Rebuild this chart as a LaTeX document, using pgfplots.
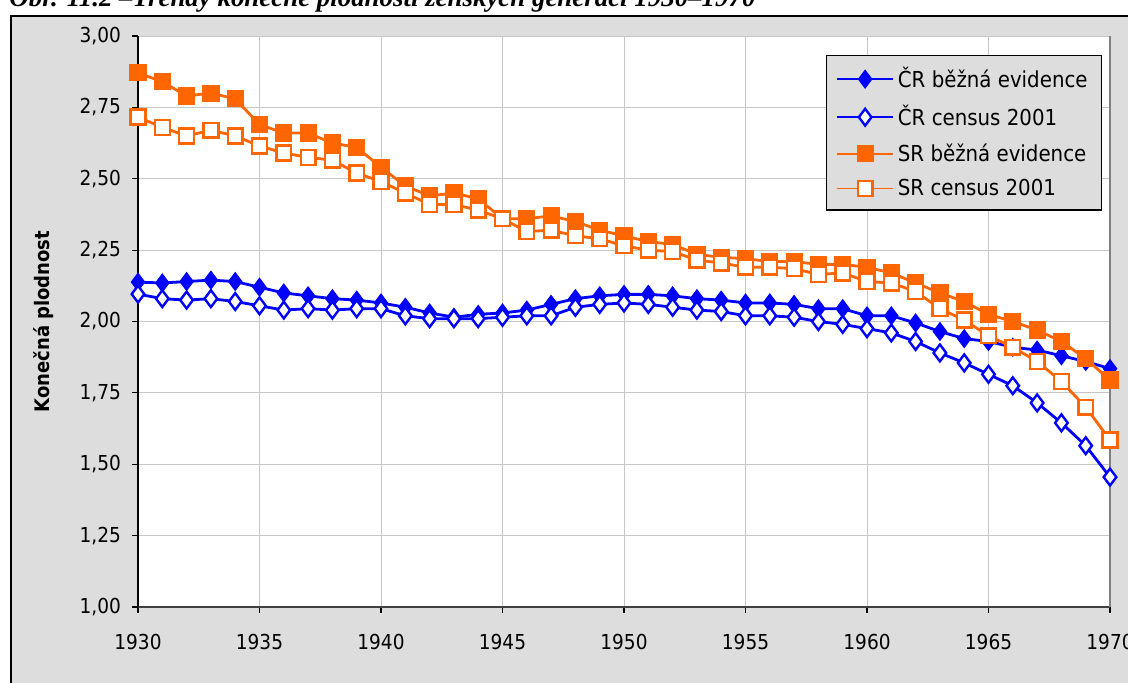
\documentclass[border=0pt]{standalone}
\usepackage{fontspec}
\setmainfont{DejaVu Sans Condensed}
\newfontfamily\titlefont{Liberation Serif}
\usepackage{pgfplots}
\pgfplotsset{compat=1.18}
\definecolor{cz}{RGB}{0,0,255}
\definecolor{sk}{RGB}{255,102,0}
\definecolor{bg}{RGB}{221,221,221}

\pgfplotstableread{
year crb crc srb src
1930 2.138 2.096 2.871 2.716
1931 2.135 2.080 2.840 2.680
1932 2.140 2.075 2.790 2.650
1933 2.145 2.080 2.800 2.670
1934 2.140 2.070 2.780 2.650
1935 2.120 2.055 2.690 2.615
1936 2.100 2.040 2.660 2.590
1937 2.090 2.045 2.660 2.575
1938 2.080 2.040 2.625 2.565
1939 2.075 2.045 2.610 2.520
1940 2.065 2.045 2.540 2.490
1941 2.050 2.020 2.475 2.450
1942 2.030 2.010 2.440 2.410
1943 2.015 2.010 2.450 2.410
1944 2.025 2.010 2.430 2.390
1945 2.030 2.015 2.360 2.360
1946 2.040 2.020 2.360 2.315
1947 2.060 2.020 2.370 2.320
1948 2.080 2.050 2.350 2.300
1949 2.090 2.060 2.320 2.290
1950 2.095 2.065 2.300 2.265
1951 2.095 2.060 2.280 2.250
1952 2.090 2.050 2.270 2.245
1953 2.080 2.040 2.235 2.215
1954 2.075 2.035 2.225 2.205
1955 2.065 2.020 2.220 2.190
1956 2.065 2.020 2.210 2.190
1957 2.060 2.015 2.210 2.185
1958 2.045 2.000 2.200 2.165
1959 2.045 1.990 2.200 2.170
1960 2.020 1.975 2.190 2.140
1961 2.020 1.960 2.170 2.135
1962 1.995 1.930 2.135 2.105
1963 1.965 1.890 2.100 2.045
1964 1.940 1.855 2.070 2.005
1965 1.930 1.815 2.025 1.950
1966 1.910 1.775 2.000 1.910
1967 1.900 1.715 1.970 1.860
1968 1.880 1.645 1.930 1.790
1969 1.860 1.565 1.870 1.700
1970 1.835 1.455 1.795 1.585
}\datatable

\begin{document}
\begin{tikzpicture}[x=1pt,y=1pt]
\path[use as bounding box] (0,0) rectangle (564,341);
\begin{scope}
\clip (0,0) rectangle (564,341);
\draw[black, line width=0.7pt, fill=bg] (5.5,-20) rectangle (600,333);
\node[anchor=base west, inner sep=0] at (4.5,337.5) {\resizebox{373pt}{!}{\titlefont\bfseries\itshape Obr. 11.2 –Trendy konečné plodnosti ženských generací 1930–1970}};
\end{scope}
\begin{axis}[
  at={(69pt,37.5pt)}, anchor=south west,
  scale only axis, width=486pt, height=285.5pt,
  xmin=1930, xmax=1970, ymin=1, ymax=3,
  xtick={1930,1935,...,1970},
  ytick={1,1.25,1.5,1.75,2,2.25,2.5,2.75,3},
  axis background/.style={fill=white},
  grid=major,
  major grid style={draw=black!22, line width=0.5pt},
  axis x line*=bottom, axis y line*=left,
  x axis line style={draw=black!75, line width=1.2pt},
  y axis line style={draw=black, line width=0.6pt},
  tick align=outside, major tick length=3pt,
  tick style={black, line width=0.6pt},
  tick label style={font=\fontsize{10.3}{12}\selectfont},
  /pgf/number format/assume math mode=true,
  xticklabel style={/pgf/number format/set thousands separator={}, yshift=-7pt},
  yticklabel style={/pgf/number format/fixed, /pgf/number format/fixed zerofill,
    /pgf/number format/precision=2, /pgf/number format/use comma, xshift=-2pt},
  ylabel={Konečná plodnost},
  ylabel style={at={(axis description cs:-0.0967,0.5)}, anchor=center, font=\bfseries\fontsize{10}{12}\selectfont},
  legend cell align=left,
  legend style={at={(0.992,0.967)}, anchor=north east, fill=bg, draw=black,
    line width=0.6pt, font=\fontsize{11}{13}\selectfont, row sep=3.3pt,
    inner xsep=5pt, inner ysep=4pt},
  legend image code/.code={\draw[mark repeat=2, mark phase=2, #1, line width=0.8pt] plot coordinates {(0pt,0pt) (14pt,0pt) (28pt,0pt)};},
  clip=false,
]
\addplot[color=cz, line width=1.4pt, mark=diamond*, mark size=4.4pt, mark options={fill=cz, line width=0.6pt}] table[x=year, y=crb] {\datatable};
\addlegendentry{ČR běžná evidence}
\addplot[color=cz, line width=1.4pt, mark=diamond*, mark size=4.2pt, mark options={fill=white, line width=1.2pt}] table[x=year, y=crc] {\datatable};
\addlegendentry{ČR census 2001}
\addplot[color=sk, line width=1.4pt, mark=square*, mark size=4pt, mark options={fill=sk, line width=0.6pt}] table[x=year, y=srb] {\datatable};
\addlegendentry{SR běžná evidence}
\addplot[color=sk, line width=1.4pt, mark=square*, mark size=3.7pt, mark options={fill=white, line width=1.2pt}] table[x=year, y=src] {\datatable};
\addlegendentry{SR census 2001}
\draw[black!50, line width=0.8pt] (rel axis cs:1,0) -- (rel axis cs:1,1);
\end{axis}
\end{tikzpicture}
\end{document}
